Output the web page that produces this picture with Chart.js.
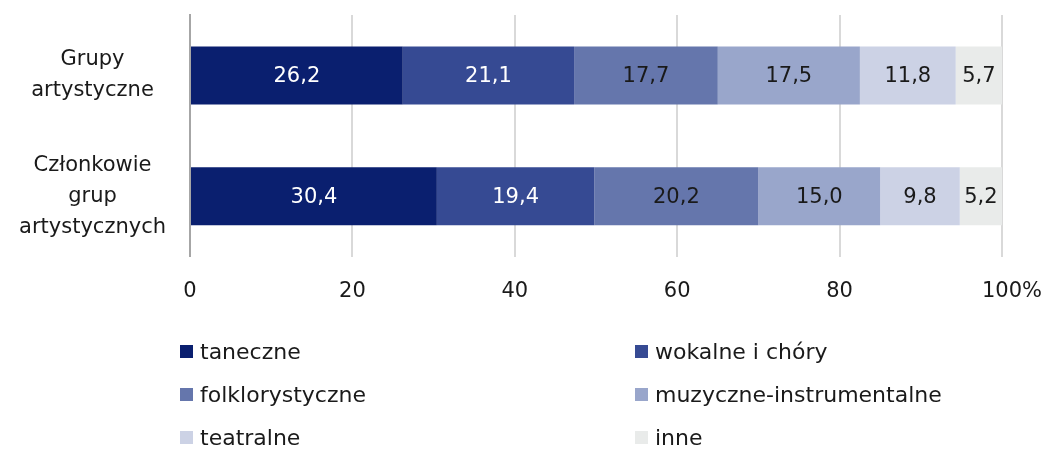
<!DOCTYPE html>
<html>
<head>
<meta charset="utf-8">
<script src="https://cdn.jsdelivr.net/npm/chart.js@4/dist/chart.umd.min.js"></script>
<style>
  html, body { margin: 0; padding: 0; background: #fff; }
  #wrap { position: relative; width: 1045px; height: 450px; }
  #legend { position: absolute; left: 0; top: 0; width: 1045px; height: 450px; pointer-events: none;
    font-family: "DejaVu Sans", sans-serif; font-size: 22px; color: #1a1a1a; }
  .li { position: absolute; display: flex; align-items: center; white-space: nowrap; }
  .sw { width: 13px; height: 13px; margin-right: 7px; }
</style>
</head>
<body>
<div id="wrap">
  <canvas id="c" width="1045" height="450"></canvas>
  <div id="legend"></div>
</div>
<script>
const categories = [["Grupy", "artystyczne"], ["Członkowie", "grup", "artystycznych"]];
const seriesNames = ["taneczne", "wokalne i chóry", "folklorystyczne", "muzyczne-instrumentalne", "teatralne", "inne"];
const taneczne = [26.2, 30.4];
const wokalne = [21.1, 19.4];
const folklorystyczne = [17.7, 20.2];
const muzyczne = [17.5, 15.0];
const teatralne = [11.8, 9.8];
const inne = [5.7, 5.2];
const xTicks = [0, 20, 40, 60, 80, 100];
const xUnit = "%";

const colors = ["#0a1f6f", "#364a93", "#6576ac", "#99a6cb", "#ccd2e5", "#e9ebea"];
const labelColors = ["#ffffff", "#ffffff", "#1a1a1a", "#1a1a1a", "#1a1a1a", "#1a1a1a"];
const seriesValues = [taneczne, wokalne, folklorystyczne, muzyczne, teatralne, inne];
const FONT = '"DejaVu Sans", sans-serif';
const TICK_SIZE = 21;
const TICK_PAD = 22;

const datasets = seriesNames.map((name, i) => ({
  label: name,
  data: seriesValues[i],
  backgroundColor: colors[i],
  borderWidth: 0,
  categoryPercentage: 1,
  barPercentage: 0.48
}));

const valueLabels = {
  id: 'valueLabels',
  afterDatasetsDraw(chart) {
    const ctx = chart.ctx;
    ctx.save();
    ctx.font = '21px ' + FONT;
    ctx.textAlign = 'center';
    ctx.textBaseline = 'middle';
    chart.data.datasets.forEach((ds, i) => {
      const meta = chart.getDatasetMeta(i);
      meta.data.forEach((bar, j) => {
        const v = ds.data[j];
        const cx = (bar.x + bar.base) / 2;
        ctx.fillStyle = labelColors[i];
        ctx.fillText(v.toFixed(1).replace('.', ','), cx, bar.y + 1);
      });
    });
    ctx.restore();
  }
};

// appends the unit sign after the last x tick label
const unitSign = {
  id: 'unitSign',
  afterDraw(chart) {
    const sx = chart.scales.x;
    const last = xTicks[xTicks.length - 1];
    const ctx = chart.ctx;
    ctx.save();
    ctx.font = TICK_SIZE + 'px ' + FONT;
    const w = ctx.measureText(String(last)).width;
    const x = sx.getPixelForValue(last) + w / 2;
    const y = sx.top + TICK_PAD + TICK_SIZE * 1.2 / 2;
    ctx.fillStyle = '#1a1a1a';
    ctx.textAlign = 'left';
    ctx.textBaseline = 'middle';
    ctx.fillText(xUnit, x, y);
    ctx.restore();
  }
};

const chart = new Chart(document.getElementById('c'), {
  type: 'bar',
  data: { labels: categories, datasets },
  options: {
    indexAxis: 'y',
    responsive: false,
    animation: false,
    layout: { padding: { top: 15, bottom: 124, left: 4, right: 43 } },
    plugins: { legend: { display: false }, tooltip: { enabled: false } },
    scales: {
      x: {
        stacked: true,
        min: 0, max: 100,
        afterBuildTicks(scale) { scale.ticks = xTicks.map(v => ({ value: v })); },
        afterFit(scale) { scale.paddingRight = 0; },
        grid: {
          color: ctx => ctx.tick && ctx.tick.value === 0 ? '#a6a6a6' : '#d9d9d9',
          lineWidth: 2,
          drawTicks: false
        },
        border: { display: false },
        ticks: {
          padding: TICK_PAD,
          color: '#1a1a1a',
          font: { family: FONT, size: TICK_SIZE },
          callback: v => String(v)
        }
      },
      y: {
        stacked: true,
        grid: { display: false, drawTicks: false },
        border: { display: true, color: '#a6a6a6', width: 2 },
        afterFit(scale) { scale.width = 186; scale.paddingTop = 0; scale.paddingBottom = 0; },
        ticks: {
          autoSkip: false,
          crossAlign: 'center',
          padding: 24,
          color: '#1a1a1a',
          font: { family: FONT, size: 21, lineHeight: 1.48 }
        }
      }
    }
  },
  plugins: [valueLabels, unitSign]
});

// HTML legend built from the chart's datasets
const legend = document.getElementById('legend');
const colX = [180, 635];
const rowY = [351, 394, 437];
chart.data.datasets.forEach((ds, i) => {
  const el = document.createElement('div');
  el.className = 'li';
  el.style.left = colX[i % 2] + 'px';
  el.style.top = (rowY[Math.floor(i / 2)] - 15) + 'px';
  el.style.height = '30px';
  el.innerHTML = '<span class="sw" style="background:' + ds.backgroundColor + '"></span><span></span>';
  el.lastChild.textContent = ds.label;
  legend.appendChild(el);
});
</script>
</body>
</html>
